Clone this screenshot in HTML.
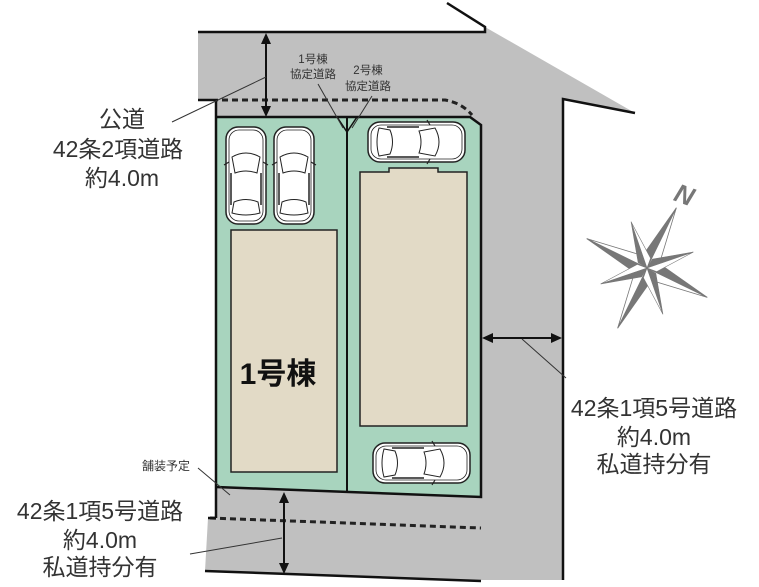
<!DOCTYPE html>
<html><head><meta charset="utf-8"><style>
html,body{margin:0;padding:0;background:#fff;}
svg{display:block;}
text{font-family:"Liberation Sans","Noto Sans CJK JP",sans-serif;fill:#333;}
</style></head><body>
<svg width="759" height="587" viewBox="0 0 759 587" xmlns="http://www.w3.org/2000/svg">
<defs>
<g id="car">
<rect x="0" y="0" width="40" height="97" rx="12" fill="#fff" stroke="#222" stroke-width="1.5"/>
<rect x="3" y="3" width="34" height="91" rx="10" fill="none" stroke="#222" stroke-width="0.8"/>
<path d="M6 30 Q20 22 34 30 L31 46 Q20 42 9 46 Z" fill="#fff" stroke="#222" stroke-width="1"/>
<path d="M8 75 Q20 70 32 75 L34 86 Q20 90 6 86 Z" fill="#fff" stroke="#222" stroke-width="1"/>
<line x1="5" y1="46" x2="5" y2="78" stroke="#222" stroke-width="1.5"/>
<line x1="35" y1="46" x2="35" y2="78" stroke="#222" stroke-width="1.5"/>
<path d="M-2 38 L3 35 M42 38 L37 35" stroke="#222" stroke-width="1.2"/>
</g>
<g id="pt">
<polygon points="0,0 0,-67 -9,-11" fill="#777"/>
<polygon points="0,0 0,-67 9,-11" fill="#fff"/>
</g>
</defs>
<polygon points="198,32 485,32 485,27 635,113 563,99 563,580 481,580 481,125 470,117 216,117 216,100 198,100" fill="#c0c0c0"/>
<polyline points="447,3 485,27 485,32 198,32" fill="none" stroke="#111" stroke-width="2.5"/>
<line x1="198" y1="100" x2="218" y2="100" stroke="#111" stroke-width="2.5"/>
<polyline points="563,580 563,99 635,113" fill="none" stroke="#111" stroke-width="2.5"/>
<path d="M222 100 L445 100 Q462 103 472 115" fill="none" stroke="#222" stroke-width="3" stroke-dasharray="6,4"/>
<polygon points="216,487 481,497 481,581 205,571 208,518 216,518" fill="#c0c0c0"/>
<line x1="205" y1="571" x2="481" y2="581" stroke="#111" stroke-width="2.5"/>
<line x1="210" y1="518" x2="481" y2="528" stroke="#222" stroke-width="3" stroke-dasharray="6,4"/>
<line x1="208" y1="518" x2="216" y2="518" stroke="#111" stroke-width="2.5"/>
<polygon points="216,117 470,117 481,125 481,497 216,487" fill="#a8d4be"/>
<polyline points="216,100 216,518" fill="none" stroke="#111" stroke-width="2.5"/>
<polyline points="216,117 470,117 481,125 481,497 216,487" fill="none" stroke="#111" stroke-width="2.5"/>
<line x1="347" y1="117" x2="347" y2="492" stroke="#111" stroke-width="2"/>
<polyline points="337,117 347,132 357,117" fill="none" stroke="#111" stroke-width="1.5"/>
<rect x="231" y="230" width="106" height="242" fill="#e2dac6" stroke="#222" stroke-width="1.5"/>
<polygon points="360,172 389,172 389,168 438,168 438,172 467,172 467,426 360,426" fill="#e2dac6" stroke="#222" stroke-width="1.5"/>
<text x="278" y="384" font-size="30" font-weight="bold" text-anchor="middle" style="fill:#111">1号棟</text>
<use href="#car" x="226" y="127"/>
<use href="#car" x="274" y="127"/>
<use href="#car" transform="translate(465,122) rotate(90)"/>
<use href="#car" transform="translate(470,443) rotate(90)"/>
<g stroke="#111" stroke-width="2" fill="#111">
<line x1="266" y1="40" x2="266" y2="110"/>
<polygon points="266,33 261,44 271,44" stroke="none"/>
<polygon points="266,117 261,106 271,106" stroke="none"/>
<line x1="284" y1="500" x2="284" y2="566"/>
<polygon points="284,492 279,503 289,503" stroke="none"/>
<polygon points="284,574 279,563 289,563" stroke="none"/>
<line x1="489" y1="338" x2="556" y2="338"/>
<polygon points="482,338 493,333 493,343" stroke="none"/>
<polygon points="562,338 551,333 551,343" stroke="none"/>
</g>
<g stroke="#333" stroke-width="1">
<line x1="172" y1="122" x2="266" y2="77"/>
<line x1="190" y1="554" x2="282" y2="538"/>
<line x1="522" y1="339" x2="566" y2="378"/>
<line x1="318" y1="84" x2="343" y2="128"/>
<line x1="372" y1="96" x2="352" y2="128"/>
<line x1="198" y1="468" x2="230" y2="495"/>
</g>
<g font-size="23" text-anchor="middle">
<text x="122" y="127">公道</text>
<text x="118" y="157">42条2項道路</text>
<text x="122" y="186">約4.0m</text>
<text x="654" y="416">42条1項5号道路</text>
<text x="654" y="445">約4.0m</text>
<text x="654" y="472">私道持分有</text>
<text x="100" y="519">42条1項5号道路</text>
<text x="100" y="548">約4.0m</text>
<text x="100" y="575">私道持分有</text>
</g>
<g font-size="11.5" text-anchor="middle">
<text x="313" y="63">1号棟</text>
<text x="313" y="78">協定道路</text>
<text x="368" y="74">2号棟</text>
<text x="368" y="90">協定道路</text>
</g>
<text x="166" y="470" font-size="12" text-anchor="middle">舗装予定</text>
<g transform="translate(647,268) rotate(26)" stroke="#777" stroke-width="0.8">
<use href="#pt"/>
<use href="#pt" transform="rotate(90)"/>
<use href="#pt" transform="rotate(180)"/>
<use href="#pt" transform="rotate(270)"/>
<g transform="rotate(45) scale(0.73)"><use href="#pt"/></g>
<g transform="rotate(135) scale(0.73)"><use href="#pt"/></g>
<g transform="rotate(225) scale(0.73)"><use href="#pt"/></g>
<g transform="rotate(315) scale(0.73)"><use href="#pt"/></g>
</g>
<text x="675" y="204" font-size="26" font-weight="bold" font-style="italic" style="fill:#777" transform="rotate(20 685 195)">N</text>
</svg>
</body></html>
